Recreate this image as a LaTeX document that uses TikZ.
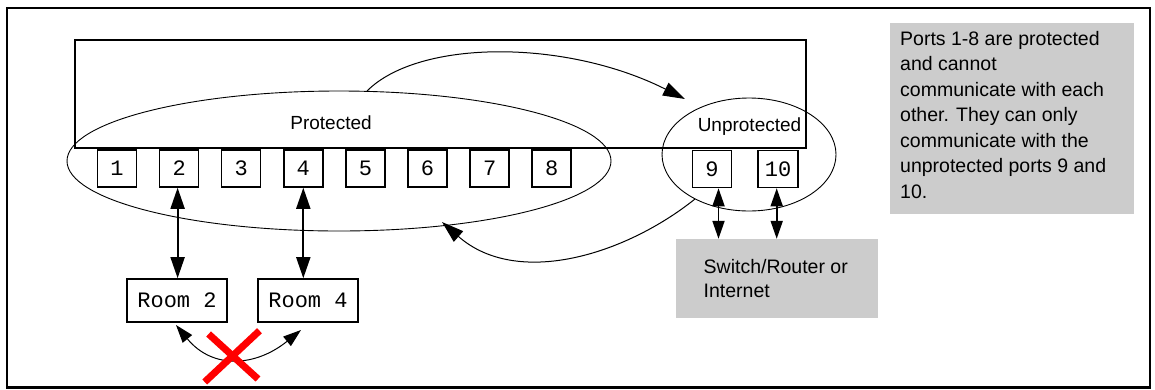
\documentclass[tikz,border=0pt]{standalone}
\usepackage{fontspec}
\setmainfont{Liberation Sans}
\setmonofont{Liberation Mono}
\usetikzlibrary{shapes.geometric,arrows.meta}
\definecolor{boxgray}{RGB}{204,204,204}
\newcommand\labfont{\fontsize{19}{19}\selectfont}
\newcommand\monofnt{\fontsize{22}{22}\selectfont\ttfamily}
\begin{document}
\begin{tikzpicture}[x=1pt,y=-1pt,
  port/.style={draw, line width=1.5pt, minimum width=39pt, minimum height=37pt, inner sep=0pt, font=\monofnt},
  roombox/.style={draw, line width=1.6pt, minimum width=100pt, minimum height=43pt, inner sep=0pt, font=\monofnt},
  ell/.style={ellipse, draw, line width=0.9pt, inner sep=0pt},
  graybox/.style={fill=boxgray, draw=none, inner sep=0pt},
  dbl/.style={line width=1.8pt, {Triangle[length=21pt,width=14pt]}-{Triangle[length=21pt,width=14pt]}},
  dblsmall/.style={line width=1.8pt, {Triangle[length=18pt,width=12pt]}-{Triangle[length=18pt,width=12pt]}},
  curvearrow/.style={line width=1pt, -{Triangle[length=22pt,width=14pt]}},
  roomarc/.style={line width=1pt, {Triangle[length=18pt,width=12pt]}-{Triangle[length=18pt,width=12pt]}},
  notetext/.style={anchor=north west, inner sep=0pt, align=left}
]
\useasboundingbox (0,0) rectangle (1155,389);
% outer frame
\draw[line width=2.5pt] (7,8) rectangle (1150,387.5);
% switch body
\node[draw, line width=1.5pt, minimum width=731pt, minimum height=108pt, inner sep=0pt] (switch) at (440.5,94) {};
% groups
\node[ell, minimum width=544pt, minimum height=140pt] (prot) at (339,161) {};
\node[ell, minimum width=174pt, minimum height=113pt] (unprot) at (749,154.5) {};
\node[anchor=base, font=\labfont, inner sep=0pt] (protlbl) at (331,129) {Protected};
\node[anchor=base, font=\labfont, inner sep=0pt] (unprotlbl) at (749.5,131.5) {Unprotected};
% ports
\foreach \i in {1,...,8} {
  \node[port] (p\i) at ({117+62.1*(\i-1)},168.5) {\i};
}
\node[port] (p9) at (712,169) {9};
\node[port, minimum width=40pt] (p10) at (778,169) {10};
% rooms
\node[roombox] (room2) at (177,300.5) {Room 2};
\node[roombox] (room4) at (308,300.5) {Room 4};
% gray boxes
\node[graybox, minimum width=244pt, minimum height=191pt] (note) at (1012,118.5) {};
\node[notetext, font=\fontsize{19.5}{25.5}\selectfont] (notetxt) at (900,30.8) {Ports 1-8 are protected\\and cannot\\communicate with each\\other. They can only\\communicate with the\\unprotected ports 9 and\\10.};
\node[graybox, minimum width=202pt, minimum height=79pt] (sw) at (777,278.5) {};
\node[notetext, font=\fontsize{19.5}{24}\selectfont] (swtxt) at (703.5,258.8) {Switch/Router or\\Internet};
% port to room arrows
\draw[dbl] ([xshift=-1.5pt]p2.south) -- ([xshift=-1.5pt]p2.south |- room2.north);
\draw[dbl] (p4.south) -- (p4.south |- room4.north);
% port 9/10 to switch arrows
\draw[dblsmall] ([xshift=6.5pt]p9.south) -- ([xshift=6.5pt]p9.south |- sw.north);
\draw[dblsmall] ([xshift=-1.3pt]p10.south) -- ([xshift=-1.3pt]p10.south |- sw.north);
% curved arrows between groups
\coordinate (a1) at (367,91);
\coordinate (a2) at (685,99);
\draw[curvearrow] (a1) .. controls (419,39) and (566,39) .. (a2);
\coordinate (b1) at (695,199);
\coordinate (b2) at (442,222);
\draw[curvearrow] (b1) .. controls (625,255) and (517,288) .. (b2);
% room arc
\coordinate (r1) at (176,325);
\coordinate (r2) at (301,330);
\draw[roomarc] (r1) .. controls (213,370) and (256,366.5) .. (r2);
% red cross
\coordinate (x1) at (208.6,334);
\coordinate (x2) at (258,379);
\coordinate (x3) at (259.5,330.7);
\coordinate (x4) at (204.7,382);
\draw[red, line width=7pt] (x1) -- (x2);
\draw[red, line width=7pt] (x3) -- (x4);
\end{tikzpicture}
\end{document}
